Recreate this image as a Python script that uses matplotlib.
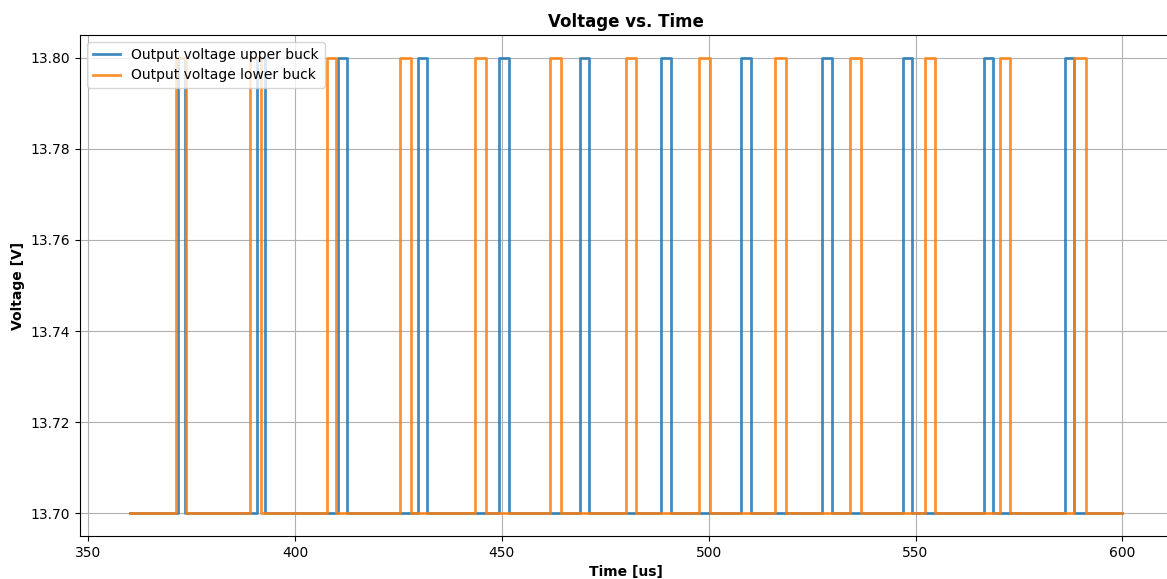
import numpy as np
import matplotlib.pyplot as plt

V_LOW = 13.70
V_HIGH = 13.80
T_START = 360.0
T_END = 600.0

# pulse edges, in us
upper_rise = [371.8, 390.7, 410.3, 429.6, 449.4, 468.9, 488.5, 507.8,
              527.4, 546.9, 566.5, 586.1]
upper_fall = [373.3, 392.8, 412.5, 432.0, 451.7, 471.1, 490.8, 510.1,
              529.7, 549.2, 568.7, 588.2]
lower_rise = [371.2, 389.2, 407.6, 425.3, 443.4, 461.7, 479.9, 497.7,
              516.0, 534.1, 552.2, 570.3, 588.4]
lower_fall = [373.6, 391.7, 409.9, 428.0, 446.1, 464.3, 482.5, 500.4,
              518.6, 536.7, 554.8, 572.9, 591.1]


def pulse_train(rises, falls):
    """Turn lists of rising/falling edges into a step waveform"""
    t = [T_START]
    v = [V_LOW]
    for a, b in zip(rises, falls):
        t += [a, a, b, b]
        v += [V_LOW, V_HIGH, V_HIGH, V_LOW]
    t.append(T_END)
    v.append(V_LOW)
    return np.array(t), np.array(v)


t_up, v_up = pulse_train(upper_rise, upper_fall)
t_lo, v_lo = pulse_train(lower_rise, lower_fall)

fig = plt.figure(figsize=(11.67, 5.79), dpi=100)
ax = fig.add_axes([80 / 1167, 43 / 579, 1092 / 1167, 501 / 579])
ax.plot(t_up, v_up, color='#1f77b4', lw=2, alpha=0.85,
        label='Output voltage upper buck')
ax.plot(t_lo, v_lo, color='#ff7f0e', lw=2, alpha=0.85,
        label='Output voltage lower buck')
ax.set_xlim(348, 612)
ax.set_ylim(13.695, 13.805)
ax.set_xticks([350, 400, 450, 500, 550, 600])
ax.set_yticks([13.70, 13.72, 13.74, 13.76, 13.78, 13.80])
ax.yaxis.set_major_formatter(plt.FormatStrFormatter('%.2f'))
ax.grid(True)
ax.set_title('Voltage vs. Time', fontweight='bold')
ax.set_xlabel('Time [us]', fontweight='bold')
ax.set_ylabel('Voltage [V]', fontweight='bold')
ax.legend(loc='upper left')

fig.savefig('out.png', dpi=100)
